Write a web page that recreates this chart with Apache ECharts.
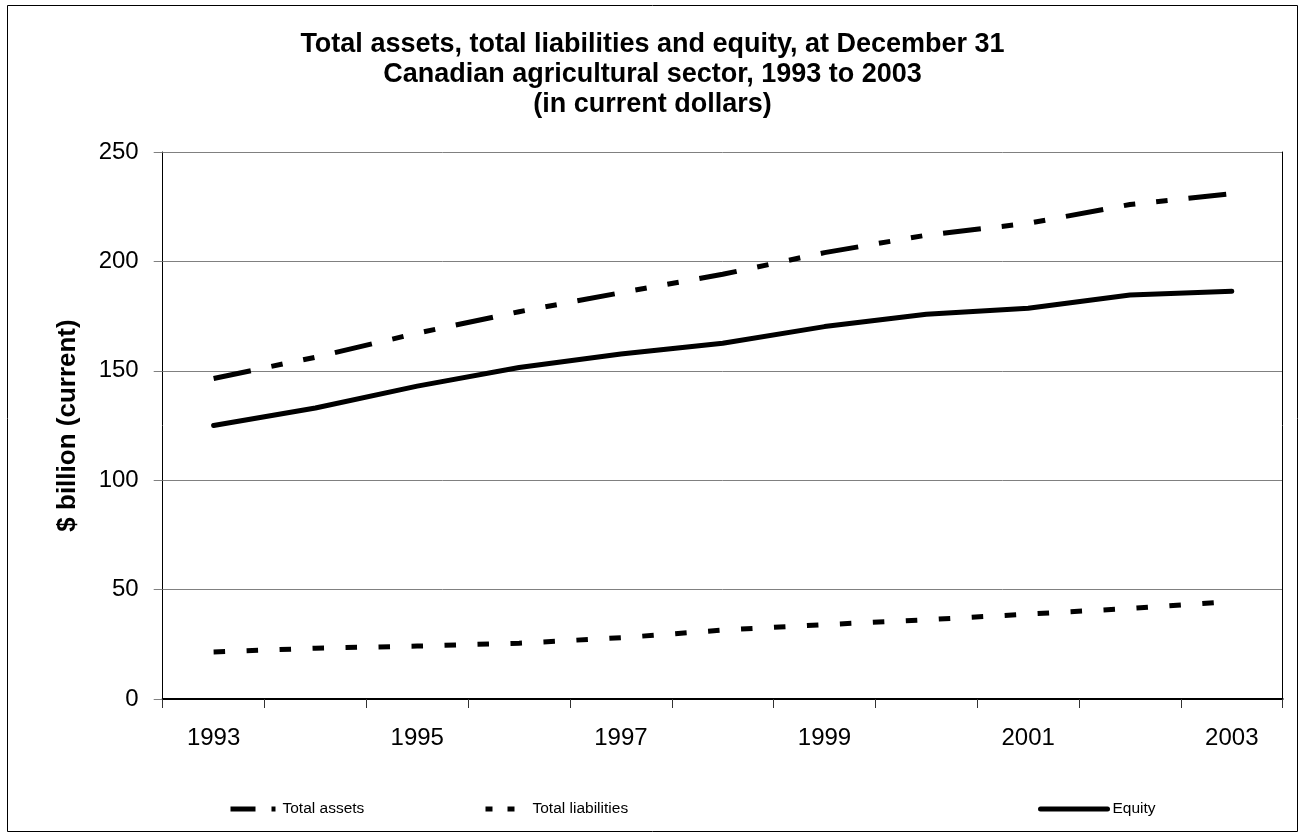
<!DOCTYPE html>
<html>
<head>
<meta charset="utf-8">
<script src="https://cdn.jsdelivr.net/npm/echarts@6/dist/echarts.min.js"></script>
<style>
html,body{margin:0;padding:0;background:#fff;}
#c{width:1305px;height:838px;}
</style>
</head>
<body>
<div id="c"></div>
<script>
const years = ['1993','1994','1995','1996','1997','1998','1999','2000','2001','2002','2003'];
const totalAssets = [146.5, 156.2, 167.2, 177.0, 185.7, 194.1, 204.0, 212.0, 217.4, 226.0, 231.0];
const totalLiabilities = [21.5, 23.2, 24.2, 25.5, 28.0, 31.5, 34.0, 36.2, 38.8, 41.4, 44.6];
const equity = [125.0, 133.0, 143.0, 151.5, 157.7, 162.6, 170.2, 175.8, 178.6, 184.6, 186.4];
const titleLines = ['Total assets, total liabilities and equity, at December 31', 'Canadian agricultural sector, 1993 to 2003', '(in current dollars)'];
const yTicks = {min: 0, max: 250, interval: 50};

const FONT = '"Liberation Sans", Arial, sans-serif';
const legendBase = {
  top: 801, itemHeight: 14, itemGap: 5, padding: 0,
  textStyle: {fontFamily: FONT, fontSize: 15.5, color: '#000'},
  itemStyle: {opacity: 0}
};
const chart = echarts.init(document.getElementById('c'), null, {renderer: 'canvas'});
chart.setOption({
  animation: false,
  backgroundColor: '#fff',
  textStyle: {fontFamily: FONT, color: '#000'},
  title: {
    text: titleLines.join('\n'),
    left: 'center',
    top: 25,
    textStyle: {fontFamily: FONT, fontSize: 27, fontWeight: 'bold', lineHeight: 30, color: '#000'}
  },
  graphic: [{
    type: 'rect', silent: true,
    shape: {x: 7.5, y: 5.5, width: 1290, height: 826},
    style: {fill: null, stroke: '#000', lineWidth: 1}
  }],
  legend: [
    Object.assign({}, legendBase, {data: ['Total assets'], left: 228, itemWidth: 47,
      lineStyle: {type: [25, 16, 4, 20], width: 5}}),
    Object.assign({}, legendBase, {data: ['Total liabilities'], left: 483, itemWidth: 42,
      lineStyle: {type: [7, 15], width: 5}}),
    Object.assign({}, legendBase, {data: ['Equity'], left: 1038, itemWidth: 67,
      lineStyle: {type: 'solid', width: 5}})
  ],
  grid: {left: 162.7, right: 22.3, top: 152, bottom: 139, containLabel: false},
  xAxis: {
    type: 'category',
    data: years,
    boundaryGap: true,
    axisLine: {lineStyle: {color: '#000', width: 2}},
    axisTick: {show: true, interval: 0, length: 9, lineStyle: {color: '#333', width: 1}},
    axisLabel: {interval: 1, margin: 27, fontSize: 24, color: '#000', fontFamily: FONT},
    splitLine: {show: false}
  },
  yAxis: [{
    type: 'value',
    min: yTicks.min, max: yTicks.max, interval: yTicks.interval,
    name: '$ billion (current)',
    nameLocation: 'middle',
    nameGap: 82,
    nameTextStyle: {fontFamily: FONT, fontSize: 26, fontWeight: 'bold', color: '#000'},
    axisLine: {show: true, lineStyle: {color: '#000', width: 1}},
    axisTick: {show: true, length: 9, lineStyle: {color: '#808080', width: 1}},
    axisLabel: {margin: 24, fontSize: 24, color: '#000', fontFamily: FONT},
    splitLine: {show: true, lineStyle: {color: '#808080', width: 1}}
  }, {
    type: 'value', position: 'right',
    min: yTicks.min, max: yTicks.max, interval: yTicks.interval,
    axisLine: {show: true, lineStyle: {color: '#000', width: 1}},
    axisTick: {show: false}, axisLabel: {show: false}, splitLine: {show: false}
  }],
  series: [
    {name: 'Total assets', type: 'line', data: totalAssets, showSymbol: false, symbol: 'none',
     color: '#000', lineStyle: {color: '#000', width: 5, type: [38, 21, 11.5, 21, 11.5, 21], cap: 'butt', join: 'round'}},
    {name: 'Total liabilities', type: 'line', data: totalLiabilities, showSymbol: false, symbol: 'none',
     color: '#000', lineStyle: {color: '#000', width: 5, type: [11.5, 21.5], cap: 'butt', join: 'round'}},
    {name: 'Equity', type: 'line', data: equity, showSymbol: false, symbol: 'none',
     color: '#000', lineStyle: {color: '#000', width: 5, type: 'solid', cap: 'round', join: 'round'}}
  ]
});
</script>
</body>
</html>
